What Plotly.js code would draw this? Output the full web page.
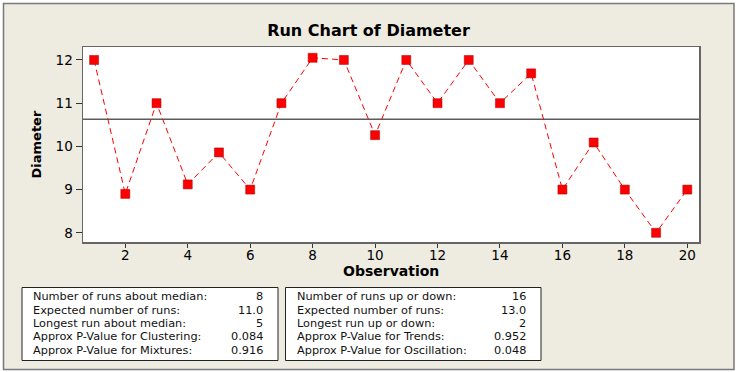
<!DOCTYPE html>
<html>
<head>
<meta charset="utf-8">
<script src="https://cdn.plot.ly/plotly-3.0.1.min.js"></script>
<style>html,body{margin:0;padding:0;background:#fff;}#chart{width:737px;height:372px;}</style>
</head>
<body>
<div id="chart"></div>
<script>
// ---- data ----
const observations = [1,2,3,4,5,6,7,8,9,10,11,12,13,14,15,16,17,18,19,20];
const diameter = [12, 8.9, 11, 9.12, 9.86, 9, 11, 12.05, 12, 10.26, 12, 11, 12, 11, 11.69, 9, 10.09, 9, 8, 9];
const xTickVals = [2,4,6,8,10,12,14,16,18,20];
const yTickVals = [8,9,10,11,12];
const chartTitle = 'Run Chart of Diameter';
const xTitle = 'Observation';
const yTitle = 'Diameter';
const leftLabels = ['Number of runs about median:', 'Expected number of runs:', 'Longest run about median:', 'Approx P-Value for Clustering:', 'Approx P-Value for Mixtures:'];
const leftValues = ['8', '11.0', '5', '0.084', '0.916'];
const rightLabels = ['Number of runs up or down:', 'Expected number of runs:', 'Longest run up or down:', 'Approx P-Value for Trends:', 'Approx P-Value for Oscillation:'];
const rightValues = ['16', '13.0', '2', '0.952', '0.048'];

// median of the data (statistic drawn as reference line)
const sorted = diameter.slice().sort((a,b)=>a-b);
const median = (sorted[9] + sorted[10]) / 2;

// ---- layout helpers (pixel -> paper) ----
const W = 737, H = 372;
const M = {l: 83, r: 38, t: 47, b: 130};
const PW = W - M.l - M.r, PH = H - M.t - M.b;
const px = v => (v - M.l) / PW;
const py = v => (H - M.b - v) / PH;

const FONT = 'DejaVu Sans';
const BEIGE = '#EEEBE1';

const rowsY = [296.5, 310, 323.3, 336.6, 350];
const statFont = {family:FONT, size:11.3, color:'#111'};
const annotations = [];
leftLabels.forEach((t,i)=>{
  annotations.push({xref:'paper', yref:'paper', x:px(31), y:py(rowsY[i]), xanchor:'left', yanchor:'middle', text:t, showarrow:false, font:statFont});
  annotations.push({xref:'paper', yref:'paper', x:px(265), y:py(rowsY[i]), xanchor:'right', yanchor:'middle', text:leftValues[i], showarrow:false, font:statFont});
});
rightLabels.forEach((t,i)=>{
  annotations.push({xref:'paper', yref:'paper', x:px(295), y:py(rowsY[i]), xanchor:'left', yanchor:'middle', text:t, showarrow:false, font:statFont});
  annotations.push({xref:'paper', yref:'paper', x:px(528), y:py(rowsY[i]), xanchor:'right', yanchor:'middle', text:rightValues[i], showarrow:false, font:statFont});
});
annotations.push({xref:'paper', yref:'paper', x:px(391), y:py(271), xanchor:'center', yanchor:'middle', text:'<b>'+xTitle+'</b>', showarrow:false, font:{family:FONT, size:14, color:'#000'}});
annotations.push({xref:'paper', yref:'paper', x:px(35.5), y:py(145), xanchor:'center', yanchor:'middle', textangle:-90, text:'<b>'+yTitle+'</b>', showarrow:false, font:{family:FONT, size:13, color:'#000'}});

const shapes = [
  {type:'rect', xref:'paper', yref:'paper', x0:px(3.5), x1:px(734), y0:py(369.5), y1:py(3.5), fillcolor:BEIGE, line:{color:'#7a7a7a', width:1.5}, layer:'below'},
  {type:'rect', xref:'paper', yref:'paper', x0:0, x1:1, y0:0, y1:1, fillcolor:'#ffffff', line:{width:0}, layer:'below'},
  {type:'line', xref:'paper', yref:'y', x0:0, x1:1, y0:median, y1:median, line:{color:'#5c5c5c', width:1.5}, layer:'below'},
  {type:'rect', xref:'paper', yref:'paper', x0:px(22), x1:px(278), y0:py(360.5), y1:py(287.5), fillcolor:'#ffffff', line:{color:'#222', width:1}, layer:'below'},
  {type:'rect', xref:'paper', yref:'paper', x0:px(285.5), x1:px(541), y0:py(360.5), y1:py(287.5), fillcolor:'#ffffff', line:{color:'#222', width:1}, layer:'below'}
];

const trace = {
  x: observations, y: diameter, type:'scatter', mode:'lines+markers',
  line:{color:'#FF0000', width:1, dash:'6px,4px'},
  marker:{symbol:'square', size:9, color:'#FF0000', line:{color:'#a00000', width:0.5}},
  hoverinfo:'skip'
};

const layout = {
  width: W, height: H,
  margin: M,
  paper_bgcolor:'#ffffff', plot_bgcolor:'rgba(0,0,0,0)',
  showlegend:false,
  title:{text:'<b>'+chartTitle+'</b>', xref:'container', yref:'container', x:0.5, y:1-30/H, xanchor:'center', yanchor:'middle', font:{family:FONT, size:16, color:'#000'}},
  xaxis:{range:[0.645, 20.375], tickmode:'array', tickvals:xTickVals, ticks:'outside', ticklen:4, tickwidth:1, tickcolor:'#333',
         ticklabelstandoff:-4,
         showgrid:false, zeroline:false, showline:true, mirror:true, linecolor:'#666', linewidth:1.5,
         tickfont:{family:FONT, size:13.5, color:'#000'}},
  yaxis:{range:[7.787, 12.30], tickmode:'array', tickvals:yTickVals, ticks:'outside', ticklen:6, tickwidth:1, tickcolor:'#333',
         showgrid:false, zeroline:false, showline:true, mirror:true, linecolor:'#666', linewidth:1.5,
         tickfont:{family:FONT, size:13.5, color:'#000'}},
  shapes: shapes,
  annotations: annotations
};

Plotly.newPlot('chart', [trace], layout, {displayModeBar:false, staticPlot:true});
</script>
</body>
</html>
